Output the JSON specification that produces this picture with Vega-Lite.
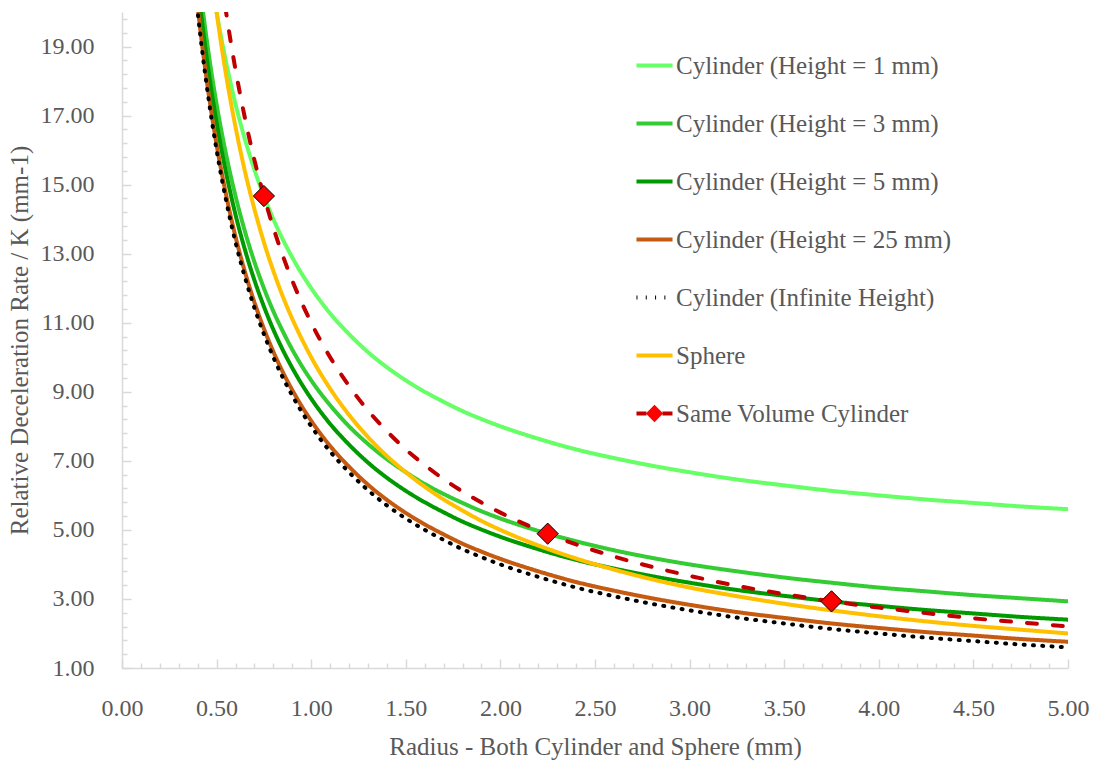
{
  "$schema": "https://vega.github.io/schema/vega-lite/v6.json",
  "width": 946,
  "height": 656,
  "autosize": {"type": "none"},
  "padding": {"left": 122, "top": 12, "right": 26, "bottom": 95},
  "background": "white",
  "config": {
    "view": {"stroke": null},
    "font": "Liberation Serif",
    "axis": {
      "grid": false,
      "domainColor": "#d9d9d9",
      "domainWidth": 1.5,
      "tickColor": "#d9d9d9",
      "tickWidth": 1.5,
      "tickCount": 200,
      "labelFlush": false,
      "labelFont": "Liberation Serif",
      "labelFontSize": 24,
      "labelColor": "#595959",
      "labelOverlap": false,
      "titleFont": "Liberation Serif",
      "titleFontSize": 25,
      "titleFontWeight": "normal",
      "titleColor": "#595959"
    }
  },
  "datasets": {
    "curves": [
      {"r": 0.35, "h1": 26.86, "h3": 24.19, "h5": 23.66, "h25": 23.02, "inf": 22.86, "sph": 28.57, "svc": 31.43},
      {"r": 0.40, "h1": 24.0, "h3": 21.33, "h5": 20.8, "h25": 20.16, "inf": 20.0, "sph": 25.0, "svc": 27.5},
      {"r": 0.45, "h1": 21.78, "h3": 19.11, "h5": 18.58, "h25": 17.94, "inf": 17.78, "sph": 22.22, "svc": 24.44},
      {"r": 0.50, "h1": 20.0, "h3": 17.33, "h5": 16.8, "h25": 16.16, "inf": 16.0, "sph": 20.0, "svc": 22.0},
      {"r": 0.55, "h1": 18.55, "h3": 15.88, "h5": 15.35, "h25": 14.71, "inf": 14.55, "sph": 18.18, "svc": 20.0},
      {"r": 0.60, "h1": 17.33, "h3": 14.67, "h5": 14.13, "h25": 13.49, "inf": 13.33, "sph": 16.67, "svc": 18.33},
      {"r": 0.65, "h1": 16.31, "h3": 13.64, "h5": 13.11, "h25": 12.47, "inf": 12.31, "sph": 15.38, "svc": 16.92},
      {"r": 0.70, "h1": 15.43, "h3": 12.76, "h5": 12.23, "h25": 11.59, "inf": 11.43, "sph": 14.29, "svc": 15.71},
      {"r": 0.75, "h1": 14.67, "h3": 12.0, "h5": 11.47, "h25": 10.83, "inf": 10.67, "sph": 13.33, "svc": 14.67},
      {"r": 0.80, "h1": 14.0, "h3": 11.33, "h5": 10.8, "h25": 10.16, "inf": 10.0, "sph": 12.5, "svc": 13.75},
      {"r": 0.85, "h1": 13.41, "h3": 10.75, "h5": 10.21, "h25": 9.57, "inf": 9.41, "sph": 11.76, "svc": 12.94},
      {"r": 0.90, "h1": 12.89, "h3": 10.22, "h5": 9.69, "h25": 9.05, "inf": 8.89, "sph": 11.11, "svc": 12.22},
      {"r": 0.95, "h1": 12.42, "h3": 9.75, "h5": 9.22, "h25": 8.58, "inf": 8.42, "sph": 10.53, "svc": 11.58},
      {"r": 1.0, "h1": 12.0, "h3": 9.33, "h5": 8.8, "h25": 8.16, "inf": 8.0, "sph": 10.0, "svc": 11.0},
      {"r": 1.1, "h1": 11.27, "h3": 8.61, "h5": 8.07, "h25": 7.43, "inf": 7.27, "sph": 9.09, "svc": 10.0},
      {"r": 1.2, "h1": 10.67, "h3": 8.0, "h5": 7.47, "h25": 6.83, "inf": 6.67, "sph": 8.33, "svc": 9.17},
      {"r": 1.3, "h1": 10.15, "h3": 7.49, "h5": 6.95, "h25": 6.31, "inf": 6.15, "sph": 7.69, "svc": 8.46},
      {"r": 1.4, "h1": 9.71, "h3": 7.05, "h5": 6.51, "h25": 5.87, "inf": 5.71, "sph": 7.14, "svc": 7.86},
      {"r": 1.5, "h1": 9.33, "h3": 6.67, "h5": 6.13, "h25": 5.49, "inf": 5.33, "sph": 6.67, "svc": 7.33},
      {"r": 1.6, "h1": 9.0, "h3": 6.33, "h5": 5.8, "h25": 5.16, "inf": 5.0, "sph": 6.25, "svc": 6.88},
      {"r": 1.7, "h1": 8.71, "h3": 6.04, "h5": 5.51, "h25": 4.87, "inf": 4.71, "sph": 5.88, "svc": 6.47},
      {"r": 1.8, "h1": 8.44, "h3": 5.78, "h5": 5.24, "h25": 4.6, "inf": 4.44, "sph": 5.56, "svc": 6.11},
      {"r": 1.9, "h1": 8.21, "h3": 5.54, "h5": 5.01, "h25": 4.37, "inf": 4.21, "sph": 5.26, "svc": 5.79},
      {"r": 2.0, "h1": 8.0, "h3": 5.33, "h5": 4.8, "h25": 4.16, "inf": 4.0, "sph": 5.0, "svc": 5.5},
      {"r": 2.2, "h1": 7.64, "h3": 4.97, "h5": 4.44, "h25": 3.8, "inf": 3.64, "sph": 4.55, "svc": 5.0},
      {"r": 2.4, "h1": 7.33, "h3": 4.67, "h5": 4.13, "h25": 3.49, "inf": 3.33, "sph": 4.17, "svc": 4.58},
      {"r": 2.6, "h1": 7.08, "h3": 4.41, "h5": 3.88, "h25": 3.24, "inf": 3.08, "sph": 3.85, "svc": 4.23},
      {"r": 2.8, "h1": 6.86, "h3": 4.19, "h5": 3.66, "h25": 3.02, "inf": 2.86, "sph": 3.57, "svc": 3.93},
      {"r": 3.0, "h1": 6.67, "h3": 4.0, "h5": 3.47, "h25": 2.83, "inf": 2.67, "sph": 3.33, "svc": 3.67},
      {"r": 3.25, "h1": 6.46, "h3": 3.8, "h5": 3.26, "h25": 2.62, "inf": 2.46, "sph": 3.08, "svc": 3.38},
      {"r": 3.5, "h1": 6.29, "h3": 3.62, "h5": 3.09, "h25": 2.45, "inf": 2.29, "sph": 2.86, "svc": 3.14},
      {"r": 3.75, "h1": 6.13, "h3": 3.47, "h5": 2.93, "h25": 2.29, "inf": 2.13, "sph": 2.67, "svc": 2.93},
      {"r": 4.0, "h1": 6.0, "h3": 3.33, "h5": 2.8, "h25": 2.16, "inf": 2.0, "sph": 2.5, "svc": 2.75},
      {"r": 4.25, "h1": 5.88, "h3": 3.22, "h5": 2.68, "h25": 2.04, "inf": 1.88, "sph": 2.35, "svc": 2.59},
      {"r": 4.5, "h1": 5.78, "h3": 3.11, "h5": 2.58, "h25": 1.94, "inf": 1.78, "sph": 2.22, "svc": 2.44},
      {"r": 4.75, "h1": 5.68, "h3": 3.02, "h5": 2.48, "h25": 1.84, "inf": 1.68, "sph": 2.11, "svc": 2.32},
      {"r": 5.0, "h1": 5.6, "h3": 2.93, "h5": 2.4, "h25": 1.76, "inf": 1.6, "sph": 2.0, "svc": 2.2}
    ],
    "markers": [
      {"r": 0.75, "K": 14.67, "kind": "Same Volume Cylinder"},
      {"r": 2.25, "K": 4.89, "kind": "Same Volume Cylinder"},
      {"r": 3.75, "K": 2.93, "kind": "Same Volume Cylinder"}
    ]
  },
  "layer": [
    {
      "data": {"name": "curves"},
      "transform": [{"fold": ["h1", "h3", "h5", "h25", "inf", "sph", "svc"], "as": ["series", "K"]}],
      "mark": {"type": "line", "strokeWidth": 4, "strokeCap": "round", "interpolate": "monotone", "clip": true},
      "encoding": {
        "x": {
          "field": "r", "type": "quantitative",
          "scale": {"domain": [0, 5], "nice": false},
          "axis": {
            "title": "Radius - Both Cylinder and Sphere (mm)",
            "titlePadding": 10,
            "tickCount": 200,
            "values": [0,0.1,0.2,0.3,0.4,0.5,0.6,0.7,0.8,0.9,1,1.1,1.2,1.3,1.4,1.5,1.6,1.7,1.8,1.9,2,2.1,2.2,2.3,2.4,2.5,2.6,2.7,2.8,2.9,3,3.1,3.2,3.3,3.4,3.5,3.6,3.7,3.8,3.9,4,4.1,4.2,4.3,4.4,4.5,4.6,4.7,4.8,4.9,5],
            "labelExpr": "abs(datum.value*2-round(datum.value*2))<0.001 ? format(datum.value,'.2f') : ''",
            "tickSize": {"condition": {"test": "abs(datum.value*2-round(datum.value*2))<0.001", "value": -9}, "value": -5},
            "labelPadding": 37
          }
        },
        "y": {
          "field": "K", "type": "quantitative",
          "scale": {"domain": [1, 20], "nice": false},
          "axis": {
            "title": "Relative Deceleration Rate / K (mm-1)",
            "titlePadding": 8,
            "tickCount": 200,
            "values": [1,1.4,1.8,2.2,2.6,3,3.4,3.8,4.2,4.6,5,5.4,5.8,6.2,6.6,7,7.4,7.8,8.2,8.6,9,9.4,9.8,10.2,10.6,11,11.4,11.8,12.2,12.6,13,13.4,13.8,14.2,14.6,15,15.4,15.8,16.2,16.6,17,17.4,17.8,18.2,18.6,19,19.4,19.8],
            "labelExpr": "abs((datum.value-1)/2-round((datum.value-1)/2))<0.001 ? format(datum.value,'.2f') : ''",
            "tickSize": {"condition": {"test": "abs((datum.value-1)/2-round((datum.value-1)/2))<0.001", "value": -9}, "value": -5},
            "labelPadding": 37
          }
        },
        "color": {
          "field": "series", "type": "nominal",
          "scale": {
            "domain": ["h1", "h3", "h5", "h25", "inf", "sph", "svc"],
            "range": ["#66ff66", "#33cc33", "#009900", "#c55a11", "#000000", "#ffc000", "#c00000"]
          },
          "legend": {
            "title": null, "orient": "none", "legendX": 512, "legendY": 33,
            "symbolType": "stroke", "symbolSize": 1300, "symbolStrokeWidth": 4,
            "labelFont": "Liberation Serif", "labelFontSize": 25, "labelColor": "#595959",
            "labelLimit": 600, "rowPadding": 24, "labelOffset": 1, "padding": 0, "zindex": 1,
            "labelExpr": "{'h1':'Cylinder (Height = 1 mm)','h3':'Cylinder (Height = 3 mm)','h5':'Cylinder (Height = 5 mm)','h25':'Cylinder (Height = 25 mm)','inf':'Cylinder (Infinite Height)','sph':'Sphere','svc':'Same Volume Cylinder'}[datum.label]"
          }
        },
        "strokeDash": {
          "field": "series", "type": "nominal",
          "scale": {
            "domain": ["h1", "h3", "h5", "h25", "inf", "sph", "svc"],
            "range": [[1, 0], [1, 0], [1, 0], [1, 0], [1, 8.3], [1, 0], [10, 16]]
          },
          "legend": {
            "title": null, "orient": "none", "legendX": 512, "legendY": 33,
            "symbolType": "stroke", "symbolSize": 1300, "symbolStrokeWidth": 4,
            "labelFont": "Liberation Serif", "labelFontSize": 25, "labelColor": "#595959",
            "labelLimit": 600, "rowPadding": 24, "labelOffset": 1, "padding": 0, "zindex": 1,
            "labelExpr": "{'h1':'Cylinder (Height = 1 mm)','h3':'Cylinder (Height = 3 mm)','h5':'Cylinder (Height = 5 mm)','h25':'Cylinder (Height = 25 mm)','inf':'Cylinder (Infinite Height)','sph':'Sphere','svc':'Same Volume Cylinder'}[datum.label]"
          }
        }
      }
    },
    {
      "data": {"name": "markers"},
      "mark": {"type": "point", "filled": true, "fill": "#ff0000", "stroke": "#000000", "strokeWidth": 1, "size": 450, "opacity": 1},
      "encoding": {
        "x": {"field": "r", "type": "quantitative"},
        "y": {"field": "K", "type": "quantitative"},
        "shape": {
          "field": "kind", "type": "nominal",
          "scale": {"range": ["diamond"]},
          "legend": {
            "title": null, "orient": "none", "legendX": 523, "legendY": 392,
            "symbolSize": 300, "symbolFillColor": "#ff0000", "symbolStrokeColor": "#000000",
            "symbolStrokeWidth": 1, "symbolOpacity": 1, "labelExpr": "''", "padding": 0, "zindex": 2
          }
        }
      }
    }
  ]
}
